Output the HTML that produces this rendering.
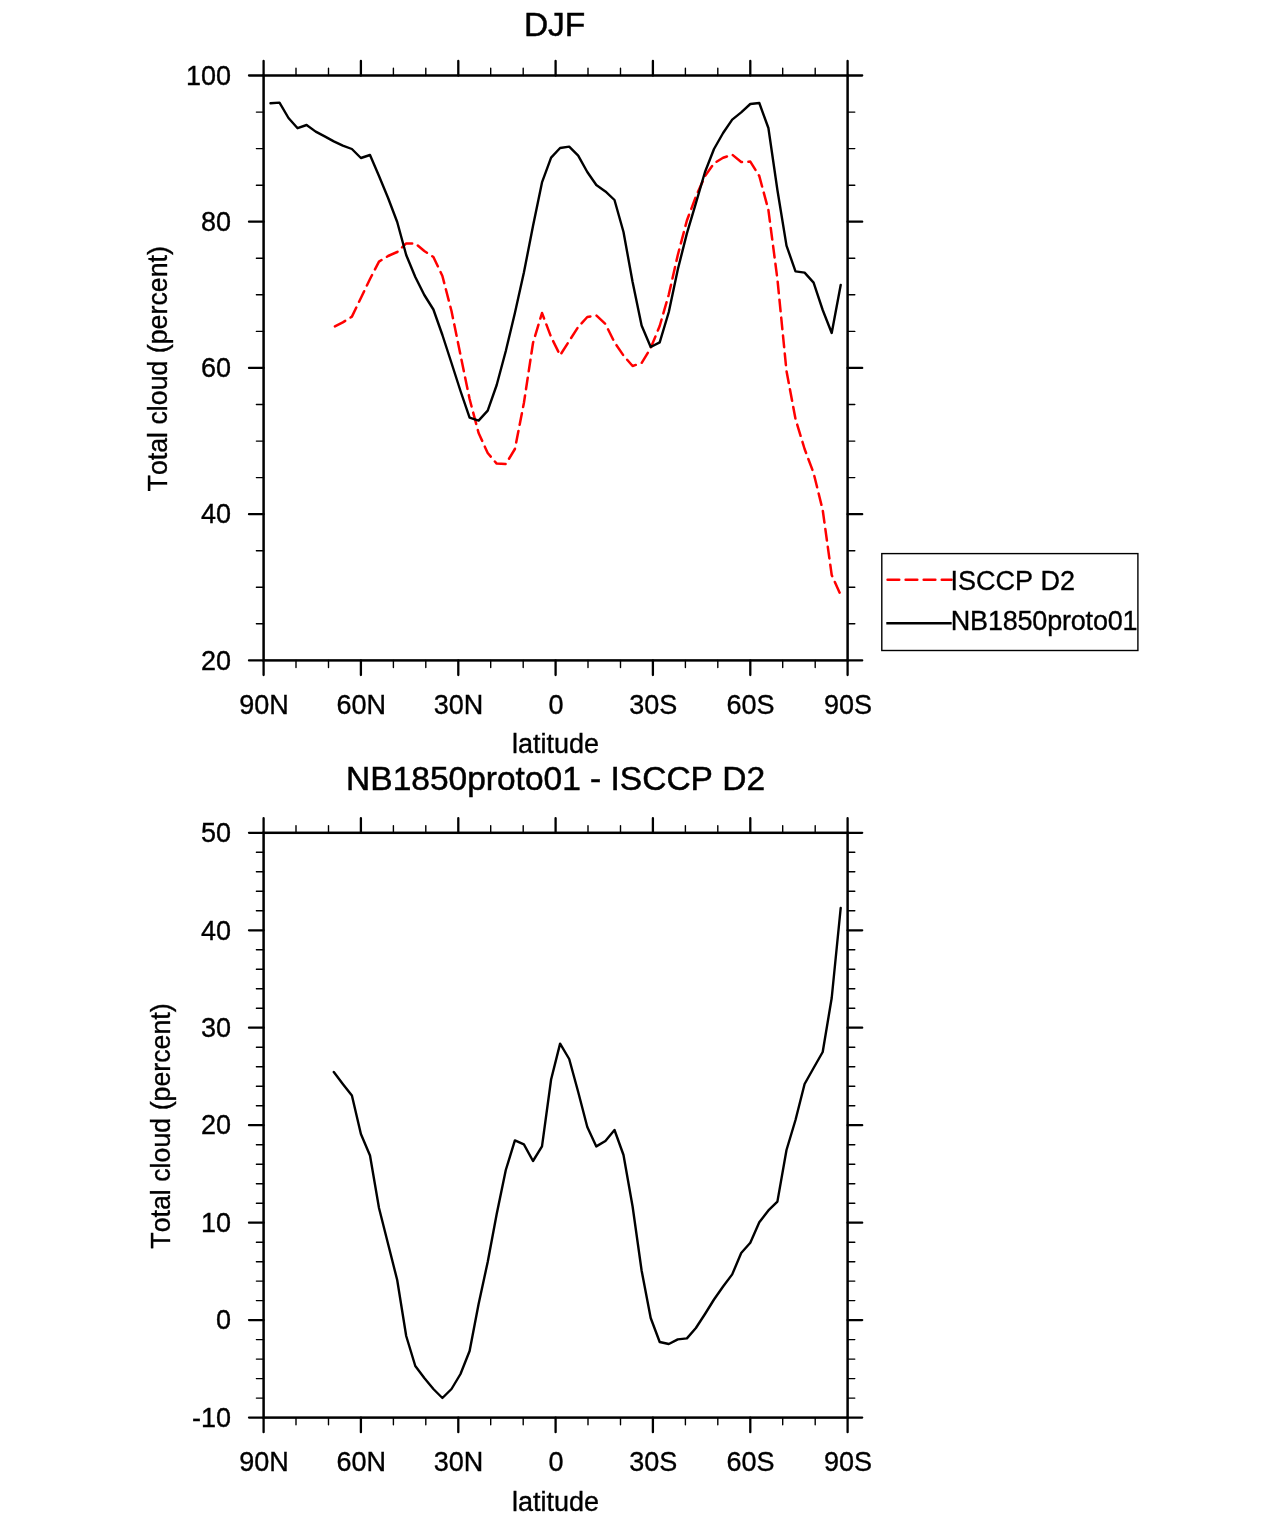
<!DOCTYPE html>
<html lang="en"><head><meta charset="utf-8"><title>DJF Total cloud</title>
<style>html,body{margin:0;padding:0;background:#fff}svg{display:block}text{font-family:"Liberation Sans",Arial,Helvetica,sans-serif;fill:#000;stroke:#000;stroke-width:0.35px;font-kerning:none}.t{font-size:33.5px;stroke-width:0.5px}.l{font-size:27px}</style></head><body>
<svg width="1285" height="1517" viewBox="0 0 1285 1517">
<rect width="1285" height="1517" fill="#fff"/>
<rect x="263.6" y="75.5" width="584.0" height="584.9" fill="none" stroke="#000" stroke-width="2.5"/>
<path d="M263.6 75.5v-14.6M263.6 660.4v14.6M360.9 75.5v-14.6M360.9 660.4v14.6M458.3 75.5v-14.6M458.3 660.4v14.6M555.6 75.5v-14.6M555.6 660.4v14.6M652.9 75.5v-14.6M652.9 660.4v14.6M750.3 75.5v-14.6M750.3 660.4v14.6M847.6 75.5v-14.6M847.6 660.4v14.6M263.6 75.5h-14.6M847.6 75.5h14.6M263.6 221.7h-14.6M847.6 221.7h14.6M263.6 367.9h-14.6M847.6 367.9h14.6M263.6 514.2h-14.6M847.6 514.2h14.6M263.6 660.4h-14.6M847.6 660.4h14.6" stroke="#000" stroke-width="2.3" stroke-linecap="round" fill="none"/>
<path d="M296.0 75.5v-7.2M296.0 660.4v7.2M328.5 75.5v-7.2M328.5 660.4v7.2M393.4 75.5v-7.2M393.4 660.4v7.2M425.8 75.5v-7.2M425.8 660.4v7.2M490.7 75.5v-7.2M490.7 660.4v7.2M523.2 75.5v-7.2M523.2 660.4v7.2M588.0 75.5v-7.2M588.0 660.4v7.2M620.5 75.5v-7.2M620.5 660.4v7.2M685.4 75.5v-7.2M685.4 660.4v7.2M717.8 75.5v-7.2M717.8 660.4v7.2M782.7 75.5v-7.2M782.7 660.4v7.2M815.2 75.5v-7.2M815.2 660.4v7.2M263.6 623.8h-7.2M847.6 623.8h7.2M263.6 587.3h-7.2M847.6 587.3h7.2M263.6 550.7h-7.2M847.6 550.7h7.2M263.6 477.6h-7.2M847.6 477.6h7.2M263.6 441.1h-7.2M847.6 441.1h7.2M263.6 404.5h-7.2M847.6 404.5h7.2M263.6 331.4h-7.2M847.6 331.4h7.2M263.6 294.8h-7.2M847.6 294.8h7.2M263.6 258.3h-7.2M847.6 258.3h7.2M263.6 185.2h-7.2M847.6 185.2h7.2M263.6 148.6h-7.2M847.6 148.6h7.2M263.6 112.1h-7.2M847.6 112.1h7.2" stroke="#000" stroke-width="1.4" stroke-linecap="round" fill="none"/>
<rect x="263.6" y="832.8" width="584.0" height="584.8" fill="none" stroke="#000" stroke-width="2.5"/>
<path d="M263.6 832.8v-14.6M263.6 1417.6v14.6M360.9 832.8v-14.6M360.9 1417.6v14.6M458.3 832.8v-14.6M458.3 1417.6v14.6M555.6 832.8v-14.6M555.6 1417.6v14.6M652.9 832.8v-14.6M652.9 1417.6v14.6M750.3 832.8v-14.6M750.3 1417.6v14.6M847.6 832.8v-14.6M847.6 1417.6v14.6M263.6 832.8h-14.6M847.6 832.8h14.6M263.6 930.3h-14.6M847.6 930.3h14.6M263.6 1027.7h-14.6M847.6 1027.7h14.6M263.6 1125.2h-14.6M847.6 1125.2h14.6M263.6 1222.7h-14.6M847.6 1222.7h14.6M263.6 1320.1h-14.6M847.6 1320.1h14.6M263.6 1417.6h-14.6M847.6 1417.6h14.6" stroke="#000" stroke-width="2.3" stroke-linecap="round" fill="none"/>
<path d="M296.0 832.8v-7.2M296.0 1417.6v7.2M328.5 832.8v-7.2M328.5 1417.6v7.2M393.4 832.8v-7.2M393.4 1417.6v7.2M425.8 832.8v-7.2M425.8 1417.6v7.2M490.7 832.8v-7.2M490.7 1417.6v7.2M523.2 832.8v-7.2M523.2 1417.6v7.2M588.0 832.8v-7.2M588.0 1417.6v7.2M620.5 832.8v-7.2M620.5 1417.6v7.2M685.4 832.8v-7.2M685.4 1417.6v7.2M717.8 832.8v-7.2M717.8 1417.6v7.2M782.7 832.8v-7.2M782.7 1417.6v7.2M815.2 832.8v-7.2M815.2 1417.6v7.2M263.6 1398.1h-7.2M847.6 1398.1h7.2M263.6 1378.6h-7.2M847.6 1378.6h7.2M263.6 1359.1h-7.2M847.6 1359.1h7.2M263.6 1339.6h-7.2M847.6 1339.6h7.2M263.6 1300.6h-7.2M847.6 1300.6h7.2M263.6 1281.1h-7.2M847.6 1281.1h7.2M263.6 1261.7h-7.2M847.6 1261.7h7.2M263.6 1242.2h-7.2M847.6 1242.2h7.2M263.6 1203.2h-7.2M847.6 1203.2h7.2M263.6 1183.7h-7.2M847.6 1183.7h7.2M263.6 1164.2h-7.2M847.6 1164.2h7.2M263.6 1144.7h-7.2M847.6 1144.7h7.2M263.6 1105.7h-7.2M847.6 1105.7h7.2M263.6 1086.2h-7.2M847.6 1086.2h7.2M263.6 1066.7h-7.2M847.6 1066.7h7.2M263.6 1047.2h-7.2M847.6 1047.2h7.2M263.6 1008.2h-7.2M847.6 1008.2h7.2M263.6 988.7h-7.2M847.6 988.7h7.2M263.6 969.3h-7.2M847.6 969.3h7.2M263.6 949.8h-7.2M847.6 949.8h7.2M263.6 910.8h-7.2M847.6 910.8h7.2M263.6 891.3h-7.2M847.6 891.3h7.2M263.6 871.8h-7.2M847.6 871.8h7.2M263.6 852.3h-7.2M847.6 852.3h7.2" stroke="#000" stroke-width="1.4" stroke-linecap="round" fill="none"/>
<polyline points="333.8,327.0 342.8,322.4 351.9,316.6 360.9,298.0 370.0,279.0 379.0,261.6 388.1,256.0 397.2,252.0 406.2,243.4 415.3,243.4 424.3,251.0 433.4,257.0 442.4,276.0 451.5,311.0 460.5,355.0 469.6,399.0 478.6,433.0 487.7,453.0 496.7,463.6 505.8,464.0 514.9,449.0 523.9,403.0 533.0,343.0 542.0,313.0 551.1,337.0 560.1,355.2 569.2,341.0 578.2,327.0 587.3,317.0 596.3,315.4 605.4,324.0 614.5,342.3 623.5,355.5 632.6,366.0 641.6,363.0 650.7,348.0 659.7,326.0 668.8,294.5 677.8,255.0 686.9,220.5 695.9,196.5 705.0,176.2 714.0,163.3 723.1,157.8 732.2,154.6 741.2,162.0 750.3,161.6 759.3,176.0 768.4,210.0 777.4,279.0 786.5,371.0 795.5,419.0 804.6,449.0 813.6,473.0 822.7,510.0 831.7,575.0 840.7,595.0" fill="none" stroke="#f00" stroke-width="2.5" stroke-dasharray="11.7 6.355" stroke-dashoffset="-1.25" stroke-linecap="round" stroke-linejoin="round"/>
<polyline points="270.5,103.3 279.5,102.6 288.5,118.0 297.6,128.2 306.6,125.0 315.7,131.6 324.7,136.4 333.8,141.4 342.8,145.6 351.9,149.0 360.9,158.0 370.0,155.0 379.0,176.0 388.1,198.0 397.2,222.0 406.2,255.0 415.3,277.0 424.3,295.0 433.4,309.5 442.4,335.0 451.5,363.0 460.5,391.0 469.6,417.6 478.6,420.6 487.7,410.6 496.7,385.0 505.8,351.0 514.9,313.0 523.9,272.5 533.0,226.0 542.0,182.4 551.1,157.6 560.1,148.0 569.2,146.6 578.2,155.6 587.3,172.0 596.3,185.0 605.4,191.4 614.5,200.0 623.5,232.0 632.6,282.0 641.6,325.5 650.7,347.0 659.7,342.4 668.8,312.0 677.8,269.5 686.9,233.4 695.9,203.2 705.0,172.0 714.0,149.0 723.1,133.0 732.2,119.6 741.2,112.4 750.3,104.0 759.3,103.0 768.4,128.0 777.4,190.0 786.5,245.6 795.5,271.4 804.6,272.6 813.6,282.6 822.7,310.0 831.7,333.0 840.7,285.0" fill="none" stroke="#000" stroke-width="2.4" stroke-linejoin="round" stroke-linecap="round"/>
<polyline points="333.8,1072.0 342.8,1084.0 351.9,1095.6 360.9,1134.0 370.0,1155.5 379.0,1208.0 388.1,1244.0 397.2,1280.0 406.2,1336.0 415.3,1366.0 424.3,1378.0 433.4,1389.0 442.4,1398.0 451.5,1389.0 460.5,1374.0 469.6,1351.0 478.6,1304.0 487.7,1262.0 496.7,1214.0 505.8,1170.0 514.9,1140.4 523.9,1144.4 533.0,1161.0 542.0,1146.4 551.1,1079.5 560.1,1043.6 569.2,1059.0 578.2,1092.0 587.3,1127.0 596.3,1146.4 605.4,1141.0 614.5,1130.0 623.5,1155.0 632.6,1206.5 641.6,1270.5 650.7,1318.0 659.7,1342.0 668.8,1344.0 677.8,1339.4 686.9,1338.4 695.9,1328.0 705.0,1314.0 714.0,1299.5 723.1,1286.5 732.2,1274.4 741.2,1253.0 750.3,1242.8 759.3,1222.3 768.4,1210.4 777.4,1201.6 786.5,1150.0 795.5,1120.0 804.6,1084.0 813.6,1068.0 822.7,1052.0 831.7,998.0 840.7,908.0" fill="none" stroke="#000" stroke-width="2.4" stroke-linejoin="round" stroke-linecap="round"/>
<text class="t" x="554.6" y="36.4" text-anchor="middle">DJF</text>
<text class="t" x="555.6" y="790.2" text-anchor="middle">NB1850proto01 - ISCCP D2</text>
<text class="l" x="231.0" y="84.7" text-anchor="end">100</text>
<text class="l" x="231.0" y="230.9" text-anchor="end">80</text>
<text class="l" x="231.0" y="377.1" text-anchor="end">60</text>
<text class="l" x="231.0" y="523.4" text-anchor="end">40</text>
<text class="l" x="231.0" y="669.6" text-anchor="end">20</text>
<text class="l" x="231.0" y="842.0" text-anchor="end">50</text>
<text class="l" x="231.0" y="939.5" text-anchor="end">40</text>
<text class="l" x="231.0" y="1036.9" text-anchor="end">30</text>
<text class="l" x="231.0" y="1134.4" text-anchor="end">20</text>
<text class="l" x="231.0" y="1231.9" text-anchor="end">10</text>
<text class="l" x="231.0" y="1329.3" text-anchor="end">0</text>
<text class="l" x="231.0" y="1426.8" text-anchor="end">-10</text>
<text class="l" x="264.0" y="713.6" text-anchor="middle">90N</text>
<text class="l" x="264.0" y="1470.8" text-anchor="middle">90N</text>
<text class="l" x="361.3" y="713.6" text-anchor="middle">60N</text>
<text class="l" x="361.3" y="1470.8" text-anchor="middle">60N</text>
<text class="l" x="458.6" y="713.6" text-anchor="middle">30N</text>
<text class="l" x="458.6" y="1470.8" text-anchor="middle">30N</text>
<text class="l" x="556.0" y="713.6" text-anchor="middle">0</text>
<text class="l" x="556.0" y="1470.8" text-anchor="middle">0</text>
<text class="l" x="653.3" y="713.6" text-anchor="middle">30S</text>
<text class="l" x="653.3" y="1470.8" text-anchor="middle">30S</text>
<text class="l" x="750.6" y="713.6" text-anchor="middle">60S</text>
<text class="l" x="750.6" y="1470.8" text-anchor="middle">60S</text>
<text class="l" x="848.0" y="713.6" text-anchor="middle">90S</text>
<text class="l" x="848.0" y="1470.8" text-anchor="middle">90S</text>
<text class="l" x="555.6" y="753.4" text-anchor="middle">latitude</text>
<text class="l" x="555.6" y="1510.6" text-anchor="middle">latitude</text>
<text class="l" style="font-size:26.75px" transform="translate(166.5 368.8) rotate(-90)" text-anchor="middle">Total cloud (percent)</text>
<text class="l" style="font-size:26.75px" transform="translate(170.3 1126.0) rotate(-90)" text-anchor="middle">Total cloud (percent)</text>
<rect x="881.8" y="553.6" width="256.1" height="96.9" fill="#fff" stroke="#000" stroke-width="1.4"/>
<path d="M886.3 579.7H951.6" stroke="#f00" stroke-width="2.5" stroke-dasharray="11.7 6.355" stroke-dashoffset="-1.25" stroke-linecap="round" fill="none"/>
<path d="M886.3 623.2H951.7" stroke="#000" stroke-width="2.4" fill="none"/>
<text class="l" x="950.6" y="589.7">ISCCP D2</text>
<text class="l" x="950.8" y="630" style="letter-spacing:-0.2px">NB1850proto01</text>
</svg></body></html>
